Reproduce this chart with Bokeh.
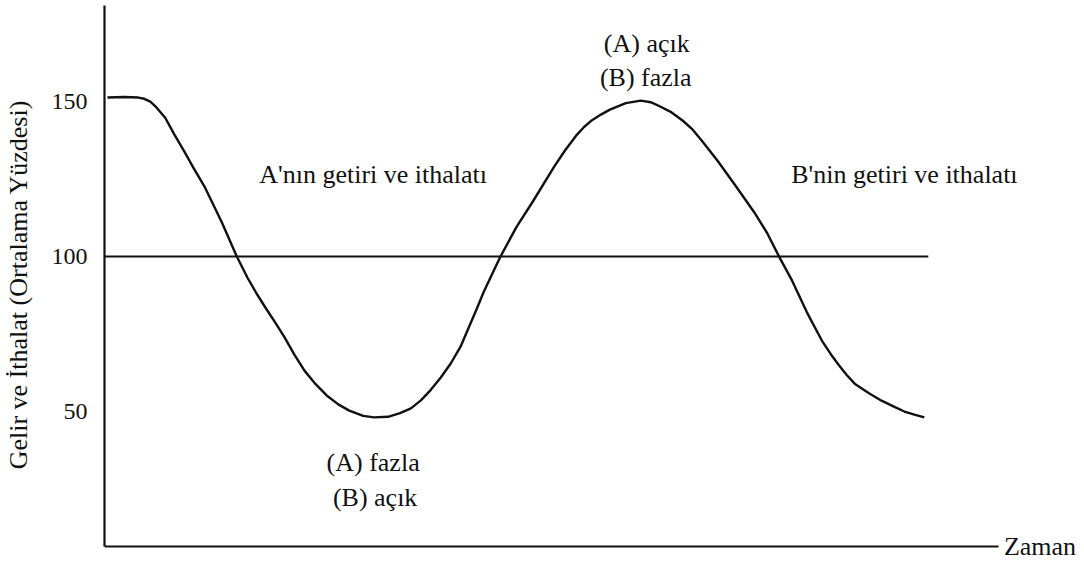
from bokeh.plotting import figure
from bokeh.models import Label, Range1d, LinearAxis
from bokeh.embed import file_html
from bokeh.resources import INLINE

# Income/import level over time (percent of average)
time = [3, 20, 34, 40, 46, 52, 61, 70, 80, 90, 101, 118, 133, 144, 153, 162,
        172, 181, 191, 201, 212, 224, 235, 246, 260, 271, 285, 297, 308, 318,
        328, 338, 348, 358, 366, 374, 381, 390, 398, 414, 431, 452, 463, 474,
        482, 490, 499, 508, 524, 539, 549, 558, 570, 581, 591, 600, 616, 635,
        653, 666, 678, 691, 706, 721, 730, 738, 746, 754, 768, 781, 794, 804,
        814, 824]
level = [151.3, 151.5, 151.3, 150.9, 150.0, 148.2, 144.8, 139.5, 134.0, 128.3,
         122.3, 111.0, 100.0, 93.0, 88.0, 83.4, 78.5, 73.9, 68.3, 63.2, 58.9,
         55.0, 52.3, 50.3, 48.6, 48.1, 48.3, 49.5, 51.0, 53.6, 57.0, 61.0,
         65.5, 71.0, 77.0, 83.0, 88.5, 94.6, 100.0, 109.5, 118.0, 129.0, 134.3,
         139.0, 141.8, 144.0, 145.8, 147.4, 149.5, 150.3, 149.8, 148.5, 146.5,
         143.9, 141.0, 137.5, 131.0, 122.5, 114.3, 107.6, 100.0, 92.3, 82.0,
         72.9, 68.5, 65.0, 61.8, 59.0, 56.0, 53.5, 51.5, 50.0, 49.0, 48.1]

# Average (100 %) reference line
average_time = [0, 828]
average_level = [100, 100]

y_ticks = [50, 100, 150]

TIME_END = 899      # where the time axis stops
LEVEL_FLOOR = 6.45  # level at which the time axis sits

FONT = "Liberation Serif"
INK = "#111111"

p = figure(width=1084, height=563, output_backend="svg", toolbar_location=None,
           x_axis_location=None,
           x_range=Range1d(0, 985), y_range=Range1d(0.97, 181.0),
           min_border_left=99, min_border_right=0, min_border_top=5,
           min_border_bottom=0)
p.outline_line_color = None
p.grid.visible = False
p.background_fill_color = "white"
p.border_fill_color = "white"

# time axis: bare line, pinned at the floor level, leaving room for "Zaman"
time_axis = LinearAxis(fixed_location=LEVEL_FLOOR, bounds=(0, TIME_END),
                       ticker=[], major_label_text_font_size="0px",
                       axis_line_width=2.2, axis_line_color=INK,
                       major_tick_line_color=None, minor_tick_line_color=None)
p.add_layout(time_axis, "below")

# level axis
p.yaxis.bounds = (LEVEL_FLOOR, 181.0)
p.yaxis.ticker = y_ticks
p.yaxis.axis_line_width = 2.2
p.yaxis.axis_line_color = INK
p.yaxis.major_tick_line_color = None
p.yaxis.minor_tick_line_color = None
p.yaxis.major_label_standoff = 11
p.yaxis.major_label_text_font = FONT
p.yaxis.major_label_text_font_size = "24px"
p.yaxis.major_label_text_color = INK
p.yaxis.axis_label = "Gelir ve İthalat (Ortalama Yüzdesi)"
p.yaxis.axis_label_text_font = FONT
p.yaxis.axis_label_text_font_size = "26px"
p.yaxis.axis_label_text_font_style = "normal"
p.yaxis.axis_label_text_color = INK
p.yaxis.axis_label_standoff = 16

p.line(average_time, average_level, line_color=INK, line_width=2)
p.line(time, level, line_color=INK, line_width=2.4, line_join="round")

def note(x, y, text, align="center", size="26px"):
    p.add_layout(Label(x=x, y=y, text=text, text_font=FONT,
                       text_font_size=size, text_color=INK,
                       text_align=align, text_baseline="middle"))

note(270, 126.5, "A'nın getiri ve ithalatı")
note(804, 126.5, "B'nin getiri ve ithalatı")
note(545, 168.7, "(A) açık")
note(544, 157.7, "(B) fazla")
note(270, 33.5, "(A) fazla")
note(272, 22.3, "(B) açık")
note(TIME_END + 5, LEVEL_FLOOR, "Zaman", align="left")

open("out.html", "w").write(file_html(p, INLINE))
